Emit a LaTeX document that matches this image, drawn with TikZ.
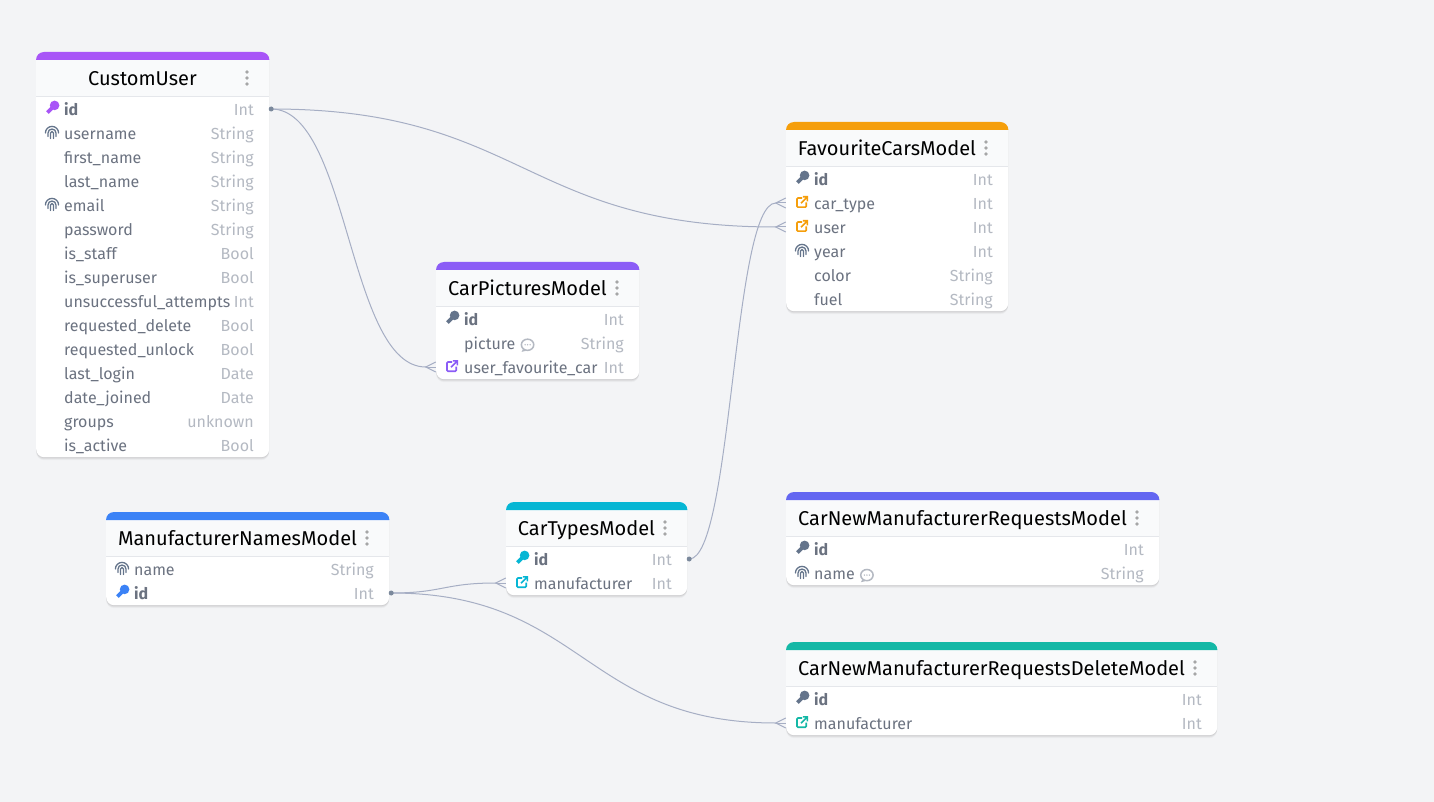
\documentclass[tikz,border=0pt]{standalone}
\usepackage{fontspec}
\setmainfont{Fira Sans}
\usetikzlibrary{shadows}
\definecolor{fondo}{HTML}{F3F4F6}
\definecolor{cabecera}{HTML}{F9FAFB}
\definecolor{regla}{HTML}{E5E7EB}
\definecolor{campo}{HTML}{6B7280}
\definecolor{tipo}{HTML}{B4B9C2}
\definecolor{icono}{HTML}{64748B}
\definecolor{enlace}{HTML}{A6AEC4}
\colorlet{tabcol}{black}
\tikzset{
	tablabox/.style={rectangle, rounded corners=8pt, fill=white, anchor=north west, inner sep=0pt,
		general shadow={shadow xshift=0pt, shadow yshift=-3pt, opacity=0.03, fill=black},
		general shadow={shadow xshift=0pt, shadow yshift=-2pt, opacity=0.05, fill=black},
		general shadow={shadow xshift=0pt, shadow yshift=-1pt, opacity=0.06, fill=black}},
	titulo/.style={font=\fontsize{20}{24}\selectfont, text=black, anchor=base, inner sep=0pt},
	fila/.style={rectangle, minimum height=24pt, inner sep=0pt},
	nombre/.style={font=\fontsize{16}{20}\selectfont, text=campo, anchor=base west, inner sep=0pt},
	tipodato/.style={font=\fontsize{16}{20}\selectfont, text=tipo, anchor=base east, inner sep=0pt},
	puntos/.style={circle, fill=black!35, minimum size=3.6pt, inner sep=0pt},
	rel/.style={draw=enlace, line width=1pt},
	origen/.style={circle, fill=icono!85, minimum size=5pt, inner sep=0pt},
	pics/clavetab/.style={code={
		\draw[tabcol, line width=3.6pt] (2,-2) -- (-4.6,4.6);
		\fill[tabcol] (2.6,-2.6) circle[radius=4.8pt];
	}},
	pics/clavegris/.style={code={
		\draw[icono, line width=3.6pt] (2,-2) -- (-4.6,4.6);
		\fill[icono] (2.6,-2.6) circle[radius=4.8pt];
	}},
	pics/huella/.style={code={
		\draw[icono, line width=1.3pt, line cap=round] (-6.6,1) arc[start angle=180, end angle=0, radius=6.6pt];
		\draw[icono, line width=1.3pt, line cap=round] (-4,4.5) -- (-4,1) arc[start angle=180, end angle=0, radius=4pt] -- (4,4.5);
		\draw[icono, line width=1.3pt, line cap=round] (-1.5,6.5) -- (-1.5,1) arc[start angle=180, end angle=0, radius=1.5pt] -- (1.5,6.5);
	}},
	pics/foranea/.style={code={
		\draw[tabcol, line width=1.6pt, rounded corners=1pt] (0,-4) -- (-5,-4) -- (-5,5.2) -- (4.2,5.2) -- (4.2,0.5);
		\draw[tabcol, line width=1.6pt] (-1,1.2) -- (5.4,-5.2) (0.8,-5.2) -- (5.4,-5.2) -- (5.4,-0.6);
	}},
	pics/nota/.style={code={
		\draw[tipo, line width=1.5pt] (-4,4.8) -- (-4.6,6) -- (-2,5.4);
		\draw[tipo, line width=1.5pt, fill=none] (0,0) ellipse[x radius=6.2pt, y radius=5.6pt];
		\foreach \px in {-2.5,0,2.5} \fill[tipo] (\px,0) circle[radius=0.8pt];
	}},
	pics/sinicono/.style={code={}}
}
% nombre, x, y, ancho, color, titulo, numero de filas, filas
\newcommand{\tabla}[8]{
	\definecolor{tabcol}{HTML}{#5}
	\pgfmathsetmacro{\alto}{45+24*#7}
	\node[tablabox, minimum width=#4pt, minimum height=\alto pt] (#1) at (#2,#3) {};
	\fill[cabecera] ([yshift=-8pt]#1.north west) rectangle ([yshift=-44pt]#1.north east);
	\fill[tabcol] ([yshift=-8pt]#1.north west) {[rounded corners=8pt] -- (#1.north west) -- (#1.north east)} -- ([yshift=-8pt]#1.north east) -- cycle;
	\draw[regla] ([yshift=-44.5pt]#1.north west) -- ([yshift=-44.5pt]#1.north east);
	\node[titulo] (#1-t) at (#2+#4/2-10,#3+33.3) {#6};
	\foreach \dy in {20,26,32}
		\node[puntos] at (#2+#4-22,#3+\dy) {};
	\foreach \ic/\fld/\typ [count=\i] in {#8} {
		\pgfmathsetmacro{\yf}{#3+33+24*\i}
		\node[fila, minimum width=#4pt] (#1-\i) at (#2+#4/2,\yf) {};
		\pic at (#2+16,\yf-1) {\ic};
		\node[nombre] (#1-\i-n) at (#2+28,\yf+6.3) {\fld};
		\node[tipodato] (#1-\i-d) at (#2+#4-15,\yf+6.3) {\typ};
	}
}
% pata de gallo contra la tabla
\newcommand{\pata}[1]{
	\coordinate (v) at ([xshift=-10pt]#1.west);
	\draw[rel] ([yshift=5pt]#1.west) -- (v) -- ([yshift=-5pt]#1.west);
	\draw[rel] (v) -- (#1.west);
}
\begin{document}
\begin{tikzpicture}[x=1pt, y=-1pt]
	\fill[fondo] (0,0) rectangle (1434,802);
	\useasboundingbox (0,0) rectangle (1434,802);

	\tabla{CustomUser}{36}{52}{233}{A855F7}{CustomUser}{15}{
		clavetab/\textbf{id}/Int, huella/username/String, sinicono/first\_name/String,
		sinicono/last\_name/String, huella/email/String, sinicono/password/String,
		sinicono/is\_staff/Bool, sinicono/is\_superuser/Bool,
		sinicono/unsuccessful\_attempts/Int, sinicono/requested\_delete/Bool,
		sinicono/requested\_unlock/Bool, sinicono/last\_login/Date,
		sinicono/date\_joined/Date, sinicono/groups/unknown, sinicono/is\_active/Bool}
	\tabla{CarPictures}{436}{262}{203}{8B5CF6}{CarPicturesModel}{3}{
		clavegris/\textbf{id}/Int, sinicono/picture/String, foranea/user\_favourite\_car/Int}
	\tabla{FavouriteCars}{786}{122}{222}{F59E0B}{FavouriteCarsModel}{6}{
		clavegris/\textbf{id}/Int, foranea/car\_type/Int, foranea/user/Int,
		huella/year/Int, sinicono/color/String, sinicono/fuel/String}
	\tabla{ManufacturerNames}{106}{512}{283}{3B82F6}{ManufacturerNamesModel}{2}{
		huella/name/String, clavetab/\textbf{id}/Int}
	\tabla{CarTypes}{506}{502}{181}{06B6D4}{CarTypesModel}{2}{
		clavetab/\textbf{id}/Int, foranea/manufacturer/Int}
	\tabla{NewRequests}{786}{492}{373}{6366F1}{CarNewManufacturerRequestsModel}{2}{
		clavegris/\textbf{id}/Int, huella/name/String}
	\tabla{DeleteRequests}{786}{642}{431}{14B8A6}{CarNewManufacturerRequestsDeleteModel}{2}{
		clavegris/\textbf{id}/Int, foranea/manufacturer/Int}

	\pic at ([xshift=12pt]CarPictures-2-n.east) {nota};
	\pic at ([xshift=12pt]NewRequests-2-n.east) {nota};

	\coordinate (a) at ([xshift=2pt]CustomUser-1.east);
	\coordinate (b) at ([xshift=2pt]CarTypes-1.east);
	\coordinate (c) at ([xshift=2pt]ManufacturerNames-2.east);

	\draw[rel] (a) .. controls +(252,0) and +(-252,0) .. ([xshift=-10pt]FavouriteCars-3.west);
	\draw[rel] (a) .. controls +(78,0) and +(-78,0) .. ([xshift=-10pt]CarPictures-3.west);
	\draw[rel] (b) .. controls +(43,0) and +(-43,0) .. ([xshift=-10pt]FavouriteCars-2.west);
	\draw[rel] (c) .. controls +(52,0) and +(-52,0) .. ([xshift=-10pt]CarTypes-2.west);
	\draw[rel] (c) .. controls +(192,0) and +(-192,0) .. ([xshift=-10pt]DeleteRequests-2.west);

	\pata{FavouriteCars-3}
	\pata{CarPictures-3}
	\pata{FavouriteCars-2}
	\pata{CarTypes-2}
	\pata{DeleteRequests-2}

	\node[origen] at (a) {};
	\node[origen] at (b) {};
	\node[origen] at (c) {};
\end{tikzpicture}
\end{document}
